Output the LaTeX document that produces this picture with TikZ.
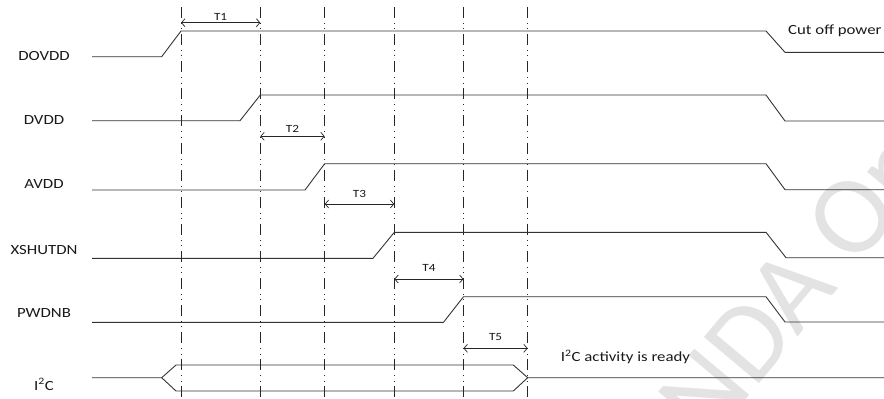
\documentclass[tikz,border=0pt]{standalone}
\usepackage{fontspec}
\setmainfont[FakeStretch=1.2]{Carlito}
\newfontfamily\wmfont{Carlito}
\usetikzlibrary{arrows.meta}
\begin{document}
\begin{tikzpicture}[x=1pt,y=-1pt,
  sig/.style={draw=black!80,line width=0.9pt,line join=miter},
  guide/.style={draw=black!85,line width=0.75pt,dash pattern=on 11pt off 5pt on 0.8pt off 4.5pt on 0.8pt off 5pt},
  tarrow/.style={draw=black!85,line width=0.7pt,{Straight Barb[length=3.5pt,width=8pt]}-{Straight Barb[length=3.5pt,width=8pt]}},
  lbl/.style={font=\fontsize{14}{16}\selectfont,anchor=base,inner sep=0pt,text=black!90},
  tlbl/.style={font=\fontsize{11}{13}\selectfont,anchor=base,inner sep=0pt,text=black!90}]
\useasboundingbox (0,0) rectangle (884,399);
% watermark
\begin{scope}
\clip (0,0) rectangle (884,399);
\node[rotate=50,anchor=base west,text=black!11,inner sep=0pt,font=\wmfont\fontsize{112}{112}\selectfont] (wm) at (708,445) {NDA Only};
\end{scope}
% guide lines
\foreach \n/\x in {g1/181,g2/260.3,g3/324.7,g4/394.3,g5/463.5,g6/527.7}{
  \coordinate (\n t) at (\x,7);
  \coordinate (\n b) at (\x,397);
  \draw[guide] (\n t) -- (\n b);
}
% labels
\node[lbl] (ldovdd) at (44,60) {DOVDD};
\node[lbl] (ldvdd) at (44,124) {DVDD};
\node[lbl] (lavdd) at (44,188.5) {AVDD};
\node[lbl] (lxsh) at (44,254) {XSHUTDN};
\node[lbl] (lpwd) at (44,317.5) {PWDNB};
\node[lbl] (li2c) at (44,390) {I\textsuperscript{2}C};
% signals
\draw[sig] (92,56.7) -- (161.7,56.7) -- (181,31) -- (766,31) -- (785,52.3) -- (884,52.3);
\draw[sig] (92,120.7) -- (240,120.7) -- (260.3,95) -- (766,95) -- (785,121) -- (884,121);
\draw[sig] (92,190) -- (305,190) -- (324.7,163.7) -- (766,163.7) -- (785,189.7) -- (884,189.7);
\draw[sig] (92,258.3) -- (373,258.3) -- (394.3,232.3) -- (766,232.3) -- (786,257.7) -- (884,257.7);
\draw[sig] (92,322.3) -- (443.5,322.3) -- (463.5,296.7) -- (766,296.7) -- (785,322) -- (884,322);
% I2C bus
\draw[sig] (92,377.7) -- (161.7,377.7) -- (176,365) -- (513.3,365) -- (527.7,377.7) -- (884,377.7);
\draw[sig] (161.7,377.7) -- (176,391) -- (513.3,391) -- (527.7,377.7);
% timing arrows
\draw[tarrow] (181,22.7) -- (260.3,22.7);
\node[tlbl] (T1) at (220.6,20) {T1};
\draw[tarrow] (260.3,136.3) -- (324.7,136.3);
\node[tlbl] (T2) at (292.5,132.3) {T2};
\draw[tarrow] (324.7,204) -- (394.3,204);
\node[tlbl] (T3) at (359.5,197.7) {T3};
\draw[tarrow] (394.3,279) -- (463.5,279);
\node[tlbl] (T4) at (429,271.7) {T4};
\draw[tarrow] (463.5,348.3) -- (527.7,348.3);
\node[tlbl] (T5) at (495.6,340) {T5};
% texts
\node[lbl,anchor=base west] (cut) at (788,34) {Cut off power};
\node[lbl,anchor=base west] (ready) at (560.7,361.7) {I\textsuperscript{2}C activity is ready};
\end{tikzpicture}
\end{document}
